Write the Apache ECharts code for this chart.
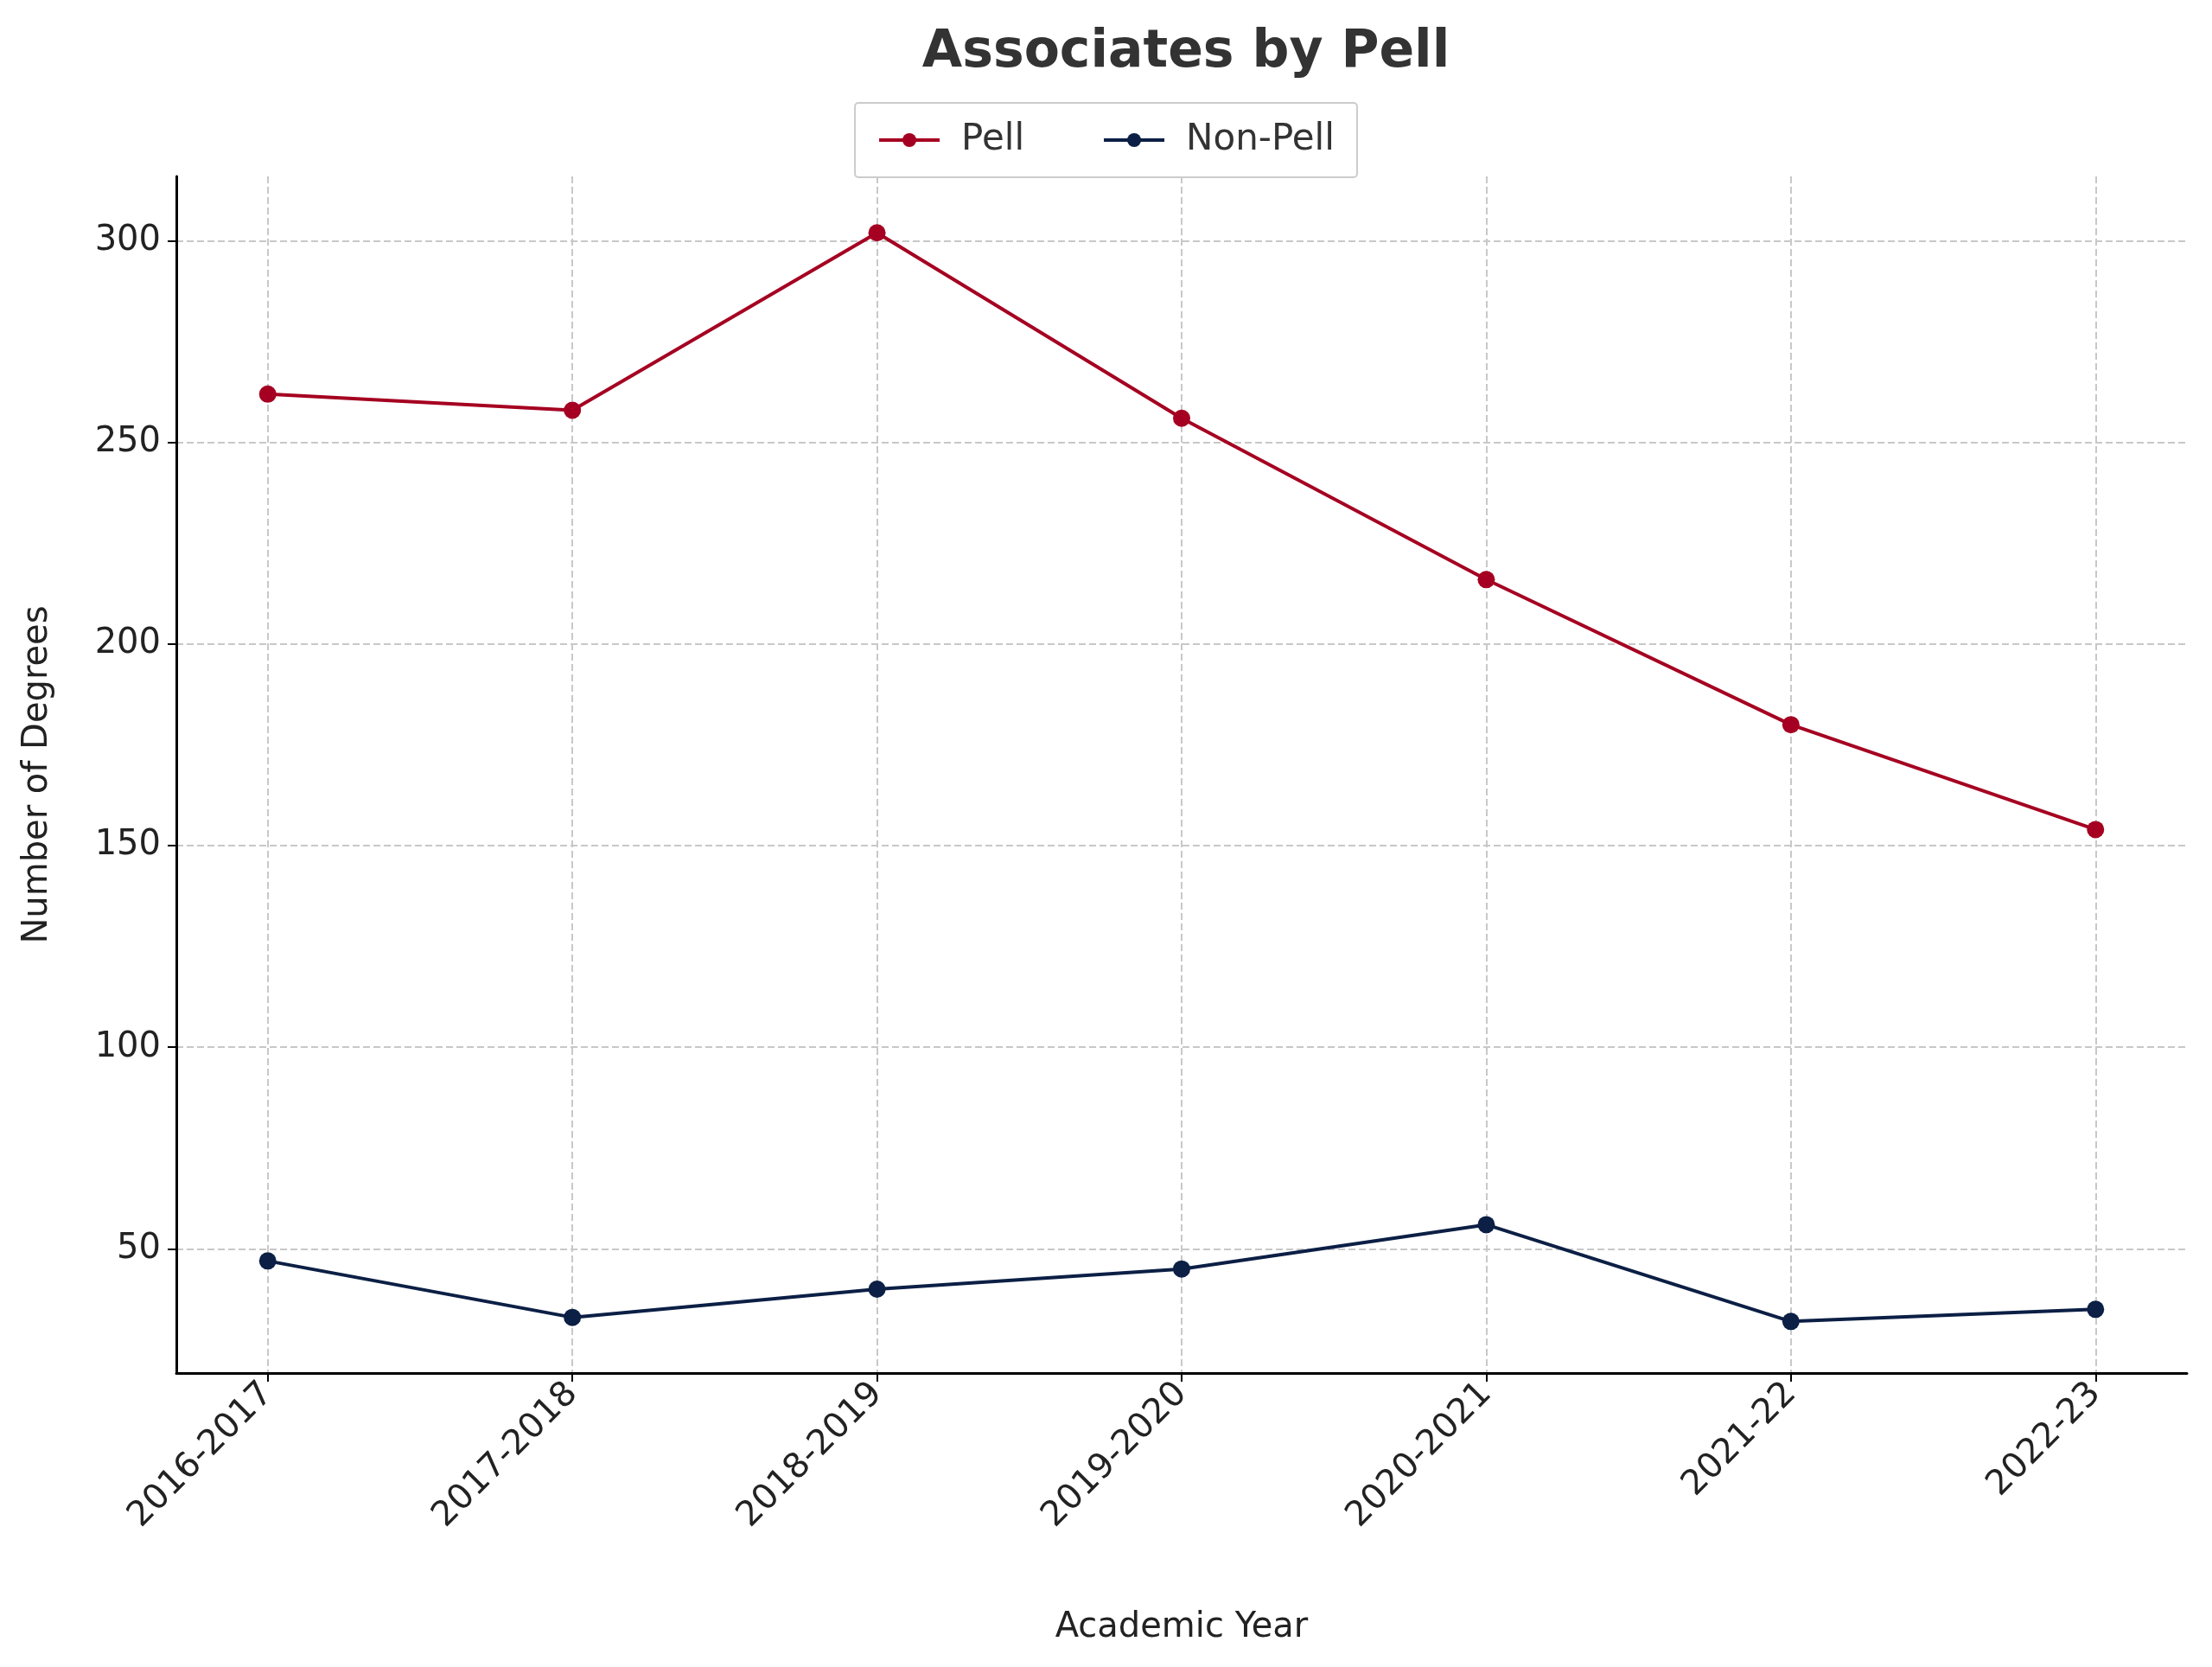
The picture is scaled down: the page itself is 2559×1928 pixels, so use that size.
<!DOCTYPE html>
<html style="height: 100%">
<head>
    <meta charset="utf-8">
    <title>Associates by Pell</title>
</head>
<body style="height: 100%; margin: 0; background: #fff;">
<div id="container" style="width: 2559px; height: 1928px"></div>
<script src="https://cdn.jsdelivr.net/npm/echarts@6/dist/echarts.min.js"></script>
<script type="text/javascript">
    var years = ['2016-2017', '2017-2018', '2018-2019', '2019-2020', '2020-2021', '2021-22', '2022-23'];
    var pell = [262, 258, 302, 256, 216, 180, 154];
    var nonPell = [47, 33, 40, 45, 56, 32, 35];
    var yTicks = [50, 100, 150, 200, 250, 300];

    var font = 'DejaVu Sans';
    var chart = echarts.init(document.getElementById('container'));

    function pairs(arr) {
        return arr.map(function (v, i) { return [i, v]; });
    }

    var option = {
        backgroundColor: '#fff',
        textStyle: { fontFamily: font },
        title: {
            text: 'Associates by Pell',
            left: 1367, top: 26, textAlign: 'center',
            textStyle: { fontSize: 60, fontWeight: 'bold', color: '#333', fontFamily: font }
        },
        legend: {
            top: 119, left: 'center',
            itemWidth: 70, itemHeight: 20, itemGap: 90,
            padding: [22, 26], borderColor: '#ccc', borderWidth: 2, borderRadius: 4,
            lineStyle: { width: 4 },
            textStyle: { fontSize: 42, color: '#333', fontFamily: font, padding: [0, 0, 0, 20] },
            data: ['Pell', 'Non-Pell']
        },
        grid: { left: 204, right: 29, top: 204, height: 1384 },
        xAxis: {
            type: 'value', min: -0.3, max: 6.3,
            name: 'Academic Year', nameLocation: 'middle', nameGap: 275,
            nameTextStyle: { fontSize: 40, color: '#222' },
            axisLine: { onZero: false, lineStyle: { color: '#000', width: 3 } },
            axisTick: { show: true, customValues: [0, 1, 2, 3, 4, 5, 6], length: 10, lineStyle: { color: '#000', width: 2 } },
            axisLabel: {
                customValues: [0, 1, 2, 3, 4, 5, 6], rotate: 45, fontSize: 40, color: '#222', margin: 18,
                padding: [0, 0, 0, 0],
                formatter: function (v) { return years[Math.round(v)]; }
            },
            splitLine: { show: true, customValues: [0, 1, 2, 3, 4, 5, 6], lineStyle: { type: 'dashed', color: '#c8c8c8', width: 2 } }
        },
        yAxis: {
            type: 'value', min: 19.2, max: 316,
            name: 'Number of Degrees', nameLocation: 'middle', nameGap: 140,
            nameTextStyle: { fontSize: 40, color: '#222' },
            axisLine: { show: true, onZero: false, lineStyle: { color: '#000', width: 3 } },
            axisTick: { show: true, customValues: yTicks, length: 10, lineStyle: { color: '#000', width: 2 } },
            axisLabel: { customValues: yTicks, fontSize: 40, color: '#222', margin: 18 },
            splitLine: { show: true, customValues: yTicks, lineStyle: { type: 'dashed', color: '#c8c8c8', width: 2 } }
        },
        series: [
            {
                name: 'Pell', type: 'line', data: pairs(pell),
                symbol: 'circle', symbolSize: 20,
                itemStyle: { color: '#a50021' },
                lineStyle: { width: 4, color: '#a50021' }
            },
            {
                name: 'Non-Pell', type: 'line', data: pairs(nonPell),
                symbol: 'circle', symbolSize: 20,
                itemStyle: { color: '#0c1f45' },
                lineStyle: { width: 4, color: '#0c1f45' }
            }
        ]
    };
    chart.setOption(option, true);
</script>
</body>
</html>
